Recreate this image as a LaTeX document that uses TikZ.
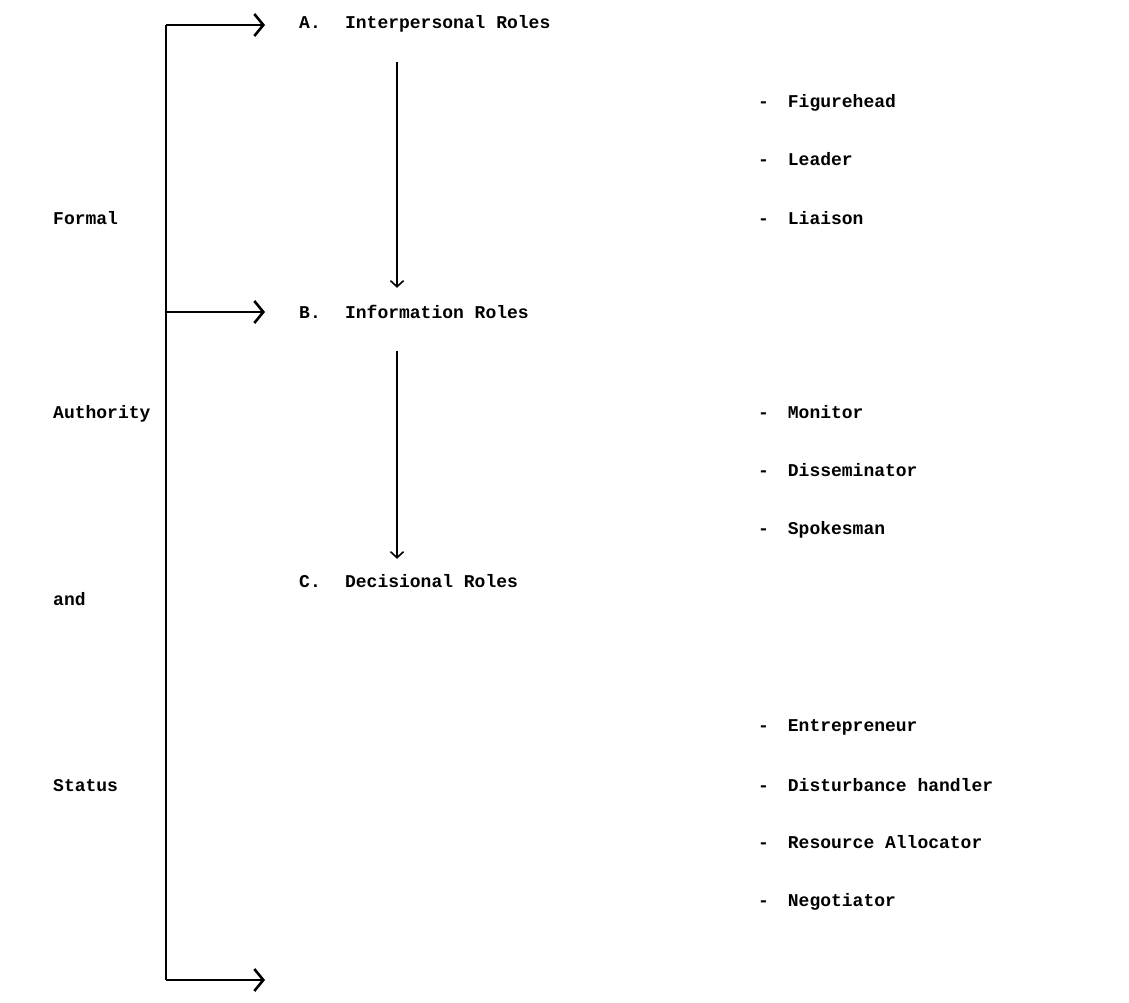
\documentclass[tikz,border=0pt]{standalone}
\usepackage{fontspec}
\setmonofont{Liberation Mono}
\usetikzlibrary{arrows.meta, positioning}

\begin{document}
\begin{tikzpicture}[x=1pt, y=-1pt]
    \tikzstyle{word} = [font=\ttfamily\bfseries\fontsize{18}{18}\selectfont, inner sep=0pt, anchor=west, text height=12pt, text depth=4pt];
    \tikzstyle{bracket} = [line width=2.2pt];
    \tikzstyle{branch} = [line width=2.2pt, -{Straight Barb[length=9pt, width=22pt, line width=2.6pt]}];
    \tikzstyle{flow} = [line width=1.3pt, -{Straight Barb[length=6pt, width=13pt, line width=1.6pt]}];

    \useasboundingbox (0,0) rectangle (1129,1003);

    \node[word] (A) at (299,25) {A.\hspace{1.35em}Interpersonal Roles};
    \node[word] (B) at (299,314) {B.\hspace{1.35em}Information Roles};
    \node[word] (C) at (299,583) {C.\hspace{1.35em}Decisional Roles};

    \node[word] (formal) at (53,220) {Formal};
    \node[word] (auth) at (53,414) {Authority};
    \node[word] (and) at (53,601) {and};
    \node[word] (status) at (53,787) {Status};

    \node[word] (fig) at (758,104) {-\hspace{1.05em}Figurehead};
    \node[word] (lead) at (758,162) {-\hspace{1.05em}Leader};
    \node[word] (liai) at (758,220) {-\hspace{1.05em}Liaison};
    \node[word] (mon) at (758,414) {-\hspace{1.05em}Monitor};
    \node[word] (diss) at (758,472) {-\hspace{1.05em}Disseminator};
    \node[word] (spok) at (758,530) {-\hspace{1.05em}Spokesman};
    \node[word] (entr) at (758,727) {-\hspace{1.05em}Entrepreneur};
    \node[word] (dist) at (758,787) {-\hspace{1.05em}Disturbance handler};
    \node[word] (reso) at (758,844) {-\hspace{1.05em}Resource Allocator};
    \node[word] (nego) at (758,902) {-\hspace{1.05em}Negotiator};

    \coordinate (top) at (166,25);
    \coordinate (mid) at (166,312);
    \coordinate (bot) at (166,980);
    \coordinate (out) at (265,980);
    \coordinate (axis) at (397,0);

    \draw[bracket] (top) -- (bot);
    \draw[branch, shorten >=34pt] (top) -- (top -| A.west);
    \draw[branch, shorten >=34pt] (mid) -- (mid -| B.west);
    \draw[branch] (bot) -- (out);

    \draw[flow, shorten <=29pt, shorten >=18pt] (A.south -| axis) -- (B.north -| axis);
    \draw[flow, shorten <=29pt, shorten >=16pt] (B.south -| axis) -- (C.north -| axis);
\end{tikzpicture}
\end{document}
